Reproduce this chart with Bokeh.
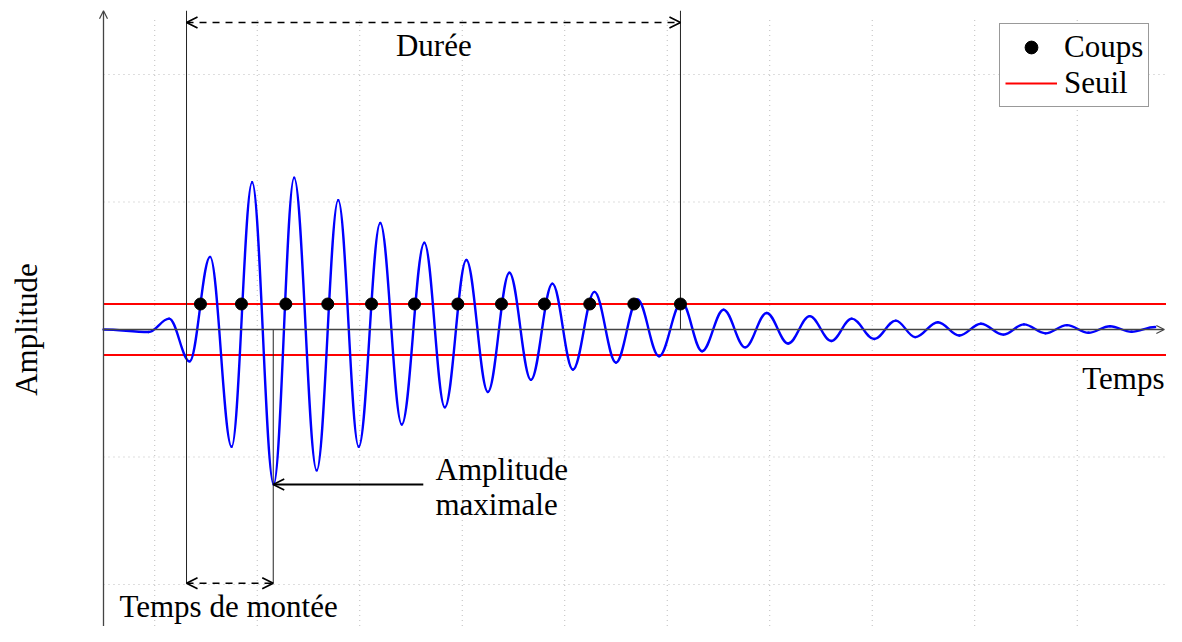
import numpy as np
from bokeh.plotting import figure
from bokeh.models import Arrow, OpenHead, Label, Legend, LegendItem
from bokeh.embed import file_html
from bokeh.resources import INLINE

# ---- data -----------------------------------------------------------------
# successive extrema of the recorded signal (time, amplitude)
SIGNAL_T = [0.00, 0.44, 0.64, 0.84, 1.04, 1.25, 1.45, 1.66, 1.86, 2.08,
            2.29, 2.49, 2.70, 2.91, 3.13, 3.33, 3.54, 3.75, 3.96, 4.17,
            4.38, 4.58, 4.79, 5.00, 5.21, 5.42, 5.64, 5.84, 6.05, 6.26,
            6.47, 6.68, 6.89, 7.10, 7.30, 7.52, 7.73, 7.92, 8.14, 8.35,
            8.56, 8.78, 8.98, 9.19, 9.40, 9.61, 9.82, 10.03, 10.26]
SIGNAL_A = [0.00, -0.02, 0.085, -0.25, 0.57, -0.92, 1.155, -1.215, 1.19, -1.105,
            1.015, -0.92, 0.835, -0.745, 0.68, -0.61, 0.545, -0.49, 0.445, -0.395,
            0.36, -0.315, 0.295, -0.26, 0.235, -0.21, 0.215, -0.17, 0.155, -0.14,
            0.13, -0.11, 0.105, -0.09, 0.085, -0.075, 0.07, -0.06, 0.057, -0.047,
            0.045, -0.04, 0.04, -0.03, 0.034, -0.026, 0.026, -0.018, 0.02]
# upward threshold crossings (coups)
COUPS_T = [0.946, 1.346, 1.779, 2.188, 2.615, 3.034, 3.457, 3.883, 4.302,
           4.744, 5.174, 5.629]
SEUIL = 0.2
T_DEBUT = 0.81     # first threshold crossing
T_PIC = 1.656      # time of the maximum amplitude
A_MAX = -1.215     # maximum amplitude
T_FIN = 5.629      # last threshold crossing
GRID_T = [0.5, 1.5, 2.5, 3.5, 4.5, 5.5, 6.5, 7.5, 8.5, 9.5]
GRID_A = [-2, -1, 1, 2]

FONT = "Liberation Serif"
FS = "31px"

p = figure(width=1166, height=626, x_range=(-1.0049, 10.371),
           y_range=(-2.3294, 2.5804), output_backend="svg",
           toolbar_location=None, min_border=0, min_border_left=0,
           min_border_right=0, min_border_top=0, min_border_bottom=0)
p.axis.visible = False
p.grid.visible = False
p.outline_line_color = None
p.background_fill_color = "white"

T_MAX = 10.5
# dotted grid
p.segment(x0=GRID_T, y0=-2.6, x1=GRID_T, y1=2.45, line_color="#bdbdbd",
          line_dash="1 4", line_width=1)
p.segment(x0=0, y0=GRID_A, x1=T_MAX, y1=GRID_A, line_color="#bdbdbd",
          line_dash="1 4", line_width=1)

# axes with arrows
AX = "#444444"
p.add_layout(Arrow(x_start=0, y_start=-2.6, x_end=0, y_end=2.50,
                   line_color=AX, line_width=1.3,
                   end=OpenHead(size=8, line_width=1.2, line_color=AX)))
p.add_layout(Arrow(x_start=0, y_start=0, x_end=10.35, y_end=0,
                   line_color=AX, line_width=1.3,
                   end=OpenHead(size=8, line_width=1.2, line_color=AX)))

# thresholds
seuil_r = p.segment(x0=0, y0=[SEUIL, -SEUIL], x1=T_MAX, y1=[SEUIL, -SEUIL],
                    line_color="#ff0000", line_width=1.8)

# signal (half-period arcs between successive extrema)
t = np.array(SIGNAL_T)
a = np.array(SIGNAL_A)
dt = np.diff(t)
k = 0.364
p.bezier(x0=t[:-1], y0=a[:-1], x1=t[1:], y1=a[1:],
         cx0=t[:-1] + k * dt, cy0=a[:-1], cx1=t[1:] - k * dt, cy1=a[1:],
         line_color="#0000ff", line_width=2.4, line_cap="round")

# vertical markers
p.segment(x0=[T_DEBUT, T_FIN, T_PIC], y0=[-1.99, 0, 0],
          x1=[T_DEBUT, T_FIN, T_PIC], y1=[2.50, 2.50, -1.99],
          line_color="#222222", line_width=1.0)

# coups
coups_r = p.scatter(COUPS_T, [SEUIL] * len(COUPS_T), size=12, color="black")

# dimension arrows
def dim_arrow(x0, x1, y):
    p.add_layout(Arrow(x_start=x0, y_start=y, x_end=x1, y_end=y,
                       line_color="black", line_width=1.7, line_dash="7 6",
                       start=OpenHead(size=11, line_width=1.7),
                       end=OpenHead(size=11, line_width=1.7)))

dim_arrow(T_DEBUT, T_FIN, 2.408)
dim_arrow(T_DEBUT, T_PIC, -1.99)

p.add_layout(Arrow(x_start=3.12, y_start=A_MAX, x_end=T_PIC, y_end=A_MAX,
                   line_color="black", line_width=2,
                   end=OpenHead(size=11, line_width=1.7)))

def lab(x, y, text, align="left", angle=0.0):
    p.add_layout(Label(x=x, y=y, text=text, text_font=FONT, text_font_size=FS,
                       text_align=align, text_baseline="alphabetic",
                       angle=angle, text_color="black"))

lab(3.223, 2.225, "Durée", "center")
lab(1.22, -2.173, "Temps de montée", "center")
lab(3.239, -1.10, "Amplitude")
lab(3.239, -1.37, "maximale")
lab(10.351, -0.384, "Temps", "right")
lab(-0.75, 0.0, "Amplitude", "center", np.pi / 2)

legend = Legend(items=[LegendItem(label="Coups", renderers=[coups_r]),
                       LegendItem(label="Seuil", renderers=[seuil_r])],
                location=(999, 519), label_text_font=FONT,
                label_text_font_size=FS, label_text_color="black",
                border_line_color="#333333",
                border_line_width=1, background_fill_color="white",
                background_fill_alpha=1.0, padding=5, spacing=0, margin=0,
                glyph_width=52, glyph_height=32, label_height=32,
                label_standoff=7)
p.add_layout(legend)

open("out.html", "w").write(file_html(p, INLINE))
